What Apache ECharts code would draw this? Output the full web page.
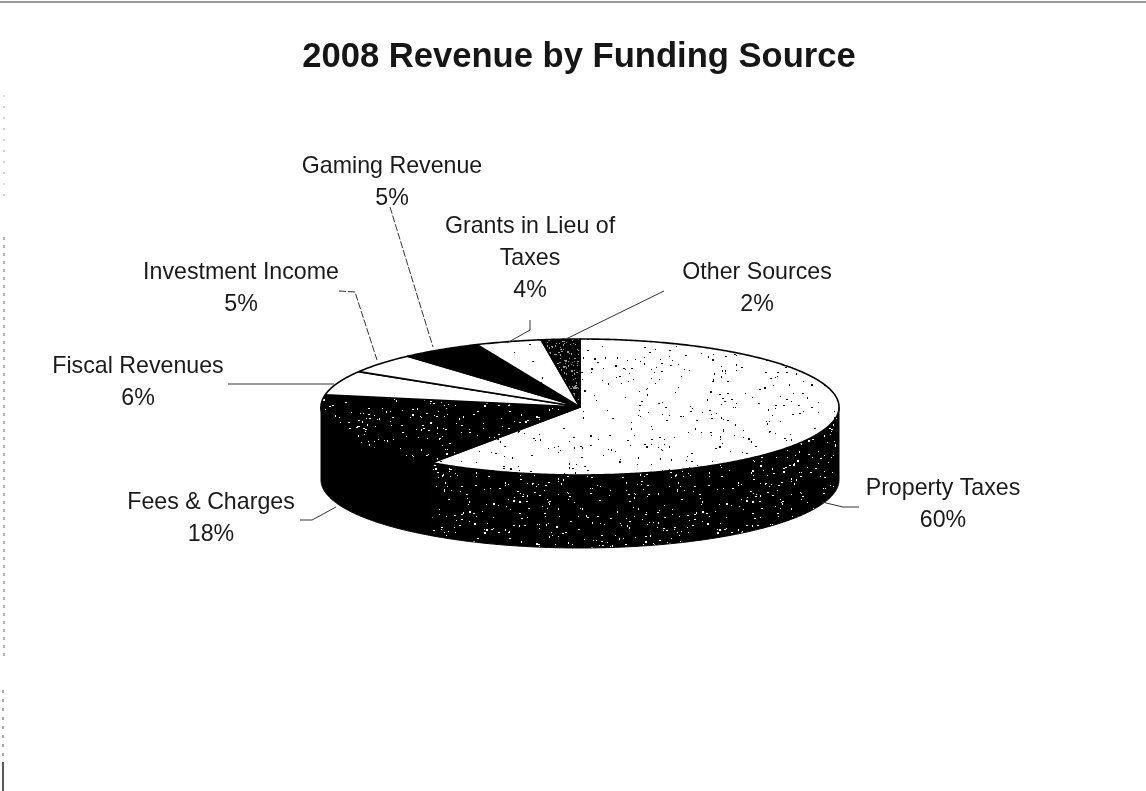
<!DOCTYPE html>
<html><head><meta charset="utf-8">
<style>html,body{margin:0;padding:0;background:#fff}#c{width:1146px;height:791px}</style>
<script src="https://cdn.jsdelivr.net/npm/echarts@6/dist/echarts.min.js"></script></head>
<body><div id="c"></div>
<script>
var titleText = '2008 Revenue by Funding Source';
var categories = ['Property Taxes','Fees & Charges','Fiscal Revenues','Investment Income','Gaming Revenue','Grants in Lieu of\nTaxes','Other Sources'];
var shares = [59.7,18.2,5.8,4.7,5.1,4.1,2.4];

// layout, separate from the data
var CX=580, CY=407, RX=259, RY=68, DEPTH=73;
var labelX = [943,211,138,241,392,530,757];
var labelY = [473,487,351,257,151,211,257];
var leaderLines = [
 [[822,502],[843,507],[859,507]],
 [[300,520],[312,520],[336,507]],
 [[228,384],[334,384]],
 [[339,291],[355,292],[377,360]],
 [[390,207],[433,347]],
 [[530,320],[530,330],[507,343]],
 [[664,291],[566,339]]
];
var leaderDash = [null,null,null,[7,2],[7,2],null,null];

function hash(x,y,s){
  var h=(x*374761393+y*668265263+s*1274126177)|0;
  h=Math.imul(h^(h>>>13),1274126177);
  return (h^(h>>>16))>>>0;
}
function tile(w,h,bg,fg,mod,seed){
  var c=document.createElement('canvas');c.width=w;c.height=h;var g=c.getContext('2d');
  g.fillStyle=bg;g.fillRect(0,0,w,h);g.fillStyle=fg;
  for(var y=0;y<h;y++)for(var x=0;x<w;x++){
    var k=hash(x,y,seed);
    if(k%mod===0) g.fillRect(x,y,(k>>>8)%3===0?2:1,(k>>>10)%4===0?2:1);
  }
  return {image:c,repeat:'repeat'};
}
var dotsOnWhite=tile(251,131,'#fff','#111',110,1);
var sparseOnWhite=tile(120,80,'#fff','#222',200,2);
var dotsOnBlack=tile(233,127,'#000','#fff',70,3);
var fewOnBlack=tile(60,60,'#000','#999',14,4);
var topFills=[dotsOnWhite,dotsOnBlack,'#fff','#fff','#000',sparseOnWhite,fewOnBlack];
var sideFills=[dotsOnBlack,'#000','#000','#000','#000','#000','#000'];

var total=shares.reduce(function(a,b){return a+b},0);
function startOf(i){var s=0;for(var j=0;j<i;j++)s+=shares[j];return s/total*Math.PI*2;}
function pt(a,dy){return [CX+RX*Math.sin(a),CY-RY*Math.cos(a)+(dy||0)];}
function arc(a0,a1,dy){var n=Math.max(2,Math.ceil((a1-a0)/0.01)),o=[];for(var k=0;k<=n;k++)o.push(pt(a0+(a1-a0)*k/n,dy));return o;}

function renderSide(p,api){
  var i=api.value(2),a0=startOf(i),a1=a0+shares[i]/total*Math.PI*2;
  var lo=Math.max(a0,Math.PI/2),hi=Math.min(a1,Math.PI*1.5);
  if(hi<=lo) return {type:'group',children:[]};
  var pts=arc(lo,hi,0).concat(arc(lo,hi,DEPTH).reverse());
  return {type:'polygon',shape:{points:pts},style:{fill:sideFills[i],stroke:'#000',lineWidth:1},silent:true};
}
function renderTop(p,api){
  var i=api.value(2),a0=startOf(i),a1=a0+shares[i]/total*Math.PI*2;
  var pts=[[CX,CY]].concat(arc(a0,a1,0));
  return {type:'polygon',shape:{points:pts},style:{fill:topFills[i],stroke:'#000',lineWidth:1.6,lineJoin:'round'},silent:true};
}
function renderLabel(p,api){
  var i=api.value(2);
  var pct=Math.round(shares[i]/total*100)+'%';
  return {type:'group',silent:true,children:[
    {type:'polyline',shape:{points:leaderLines[i]},style:{fill:null,stroke:'#333',lineWidth:1,lineDash:leaderDash[i]}},
    {type:'text',style:{text:categories[i]+'\n'+pct,x:labelX[i],y:labelY[i],align:'center',verticalAlign:'top',lineHeight:32,fill:'#1a1a1a',font:'23.2px "Liberation Sans", Arial, sans-serif'}}
  ]};
}
var rows=categories.map(function(n,i){return [n,shares[i],i];});
var enc={itemName:0,value:1};
var chart=echarts.init(document.getElementById('c'),null,{renderer:'canvas'});
chart.setOption({
  animation:false,backgroundColor:'#fff',
  title:{text:titleText,left:574,top:35,textAlign:'center',textStyle:{fontFamily:'"Liberation Sans", Arial, sans-serif',fontSize:34.6,fontWeight:'bold',color:'#161616'}},
  tooltip:{show:false},
  dataset:{source:rows},
  series:[
    {type:'custom',coordinateSystem:'none',renderItem:renderSide,encode:enc,z:1},
    {type:'custom',coordinateSystem:'none',renderItem:renderTop,encode:enc,z:2},
    {type:'custom',coordinateSystem:'none',renderItem:renderLabel,encode:enc,z:3}
  ],
  graphic:[
    {type:'line',shape:{x1:0,y1:2,x2:1146,y2:2},style:{stroke:'#777',lineWidth:1.5},silent:true},
    {type:'line',shape:{x1:4,y1:95,x2:4,y2:205},style:{stroke:'#aaa',lineWidth:1,lineDash:[2,9]},silent:true},
    {type:'line',shape:{x1:4,y1:237,x2:4,y2:660},style:{stroke:'#666',lineWidth:1,lineDash:[3,5]},silent:true},
    {type:'line',shape:{x1:3,y1:690,x2:3,y2:760},style:{stroke:'#555',lineWidth:1,lineDash:[3,6]},silent:true},
    {type:'line',shape:{x1:3,y1:762,x2:3,y2:791},style:{stroke:'#222',lineWidth:1.5},silent:true}
  ]
});
</script></body></html>
